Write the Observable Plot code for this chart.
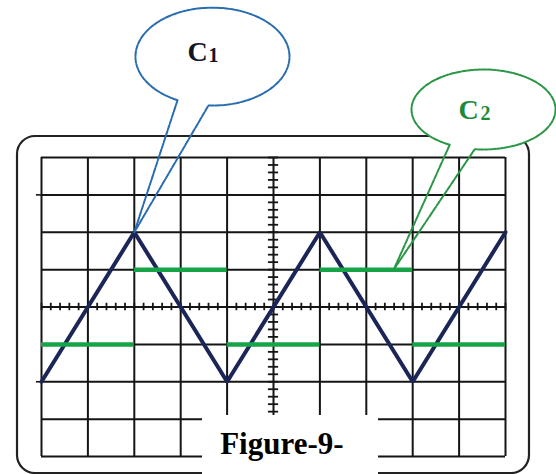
<!DOCTYPE html>
<html>
<head>
<meta charset="utf-8">
<script src="https://cdn.jsdelivr.net/npm/d3@7"></script>
<script src="https://cdn.jsdelivr.net/npm/@observablehq/plot@0.6"></script>
<style>
  html, body { margin: 0; padding: 0; background: #fff; }
  #chart svg { display: block; overflow: visible; }
</style>
</head>
<body>
<div id="chart"></div>
<script>
// Oscilloscope screen: 10 horizontal by 8 vertical divisions
const columns = [0, 1, 2, 3, 4, 5, 6, 7, 8, 9, 10];
const rows = [-4, -3, -2, -1, 0, 1, 2, 3, 4];

// Channel C1: triangle trace (time in divisions, level in divisions)
const triTime = [0, 2, 4, 6, 8, 10];
const triLevel = [-2, 2, -2, 2, -2, 2];

// Channel C2: square trace, one flat step per half period
const sqStart = [0, 2, 4, 6, 8];
const sqEnd = [2, 4, 6, 8, 10];
const sqLevel = [-1, 1, -1, 1, -1];

// Texts
const figureLabel = "Figure-9-";
const channelLetter = ["C", "C"];
const channelNumber = ["1", "2"];

// Fine graduations on the two centre axes (fifths of a division)
const minorX = d3.range(0, 10.001, 0.2);
const minorY = d3.range(-4, 4.001, 0.2);

const triangle = triTime.map((t, i) => ({t, v: triLevel[i]}));
const square = sqStart.map((s, i) => ({s, e: sqEnd[i], v: sqLevel[i]}));

// Speech-bubble outline: ellipse rim from the left foot of the tail, over the top,
// to the right foot, then down to the tip and back (angles in degrees, 90 = bottom)
function ellipseRim(cx, cy, rx, ry, a0, a1) {
  return d3.range(a0, a1 + 0.001, 3).map(a => {
    const r = a * Math.PI / 180;
    return {x: cx + rx * Math.cos(r), y: cy - ry * Math.sin(r)};
  });
}
function bubble(cx, cy, rx, ry, aLeft, aRight, tip) {
  const rim = ellipseRim(cx, cy, rx, ry, aLeft, aRight + 360);
  return {
    fill: ellipseRim(cx, cy, rx, ry, 0, 357),
    outline: [...rim, tip, rim[0]]
  };
}

const bubble1 = bubble(3.685, 6.70, 1.66, 1.31, 117, 95, {x: triTime[1], y: triLevel[1]});
const bubble2 = bubble(9.526, 5.284, 1.552, 1.07, 118, 98, {x: 7.59, y: sqLevel[3]});

const navy = "#1b2557";
const green = "#17a348";
const grid = "#151515";

const chart = Plot.plot({
  width: 556,
  height: 474,
  marginLeft: 41,
  marginRight: 51,
  marginTop: 157,
  marginBottom: 18,
  x: {domain: [0, 10], axis: null},
  y: {domain: [-4, 4], axis: null},
  style: {background: "white", overflow: "visible"},
  marks: [
    // bezel of the screen
    Plot.rect([0], {x1: -0.517, x2: 10.517, y1: -4.455, y2: 4.562, rx: 18, ry: 18,
      fill: "none", stroke: "#222", strokeWidth: 2.2}),
    // graticule
    Plot.ruleX(columns, {y1: -4, y2: 4, stroke: grid, strokeWidth: 2}),
    Plot.ruleY(rows, {x1: 0, x2: 10, stroke: grid, strokeWidth: 2}),
    Plot.ruleY([3, -2], {x1: -0.11, x2: 0, stroke: grid, strokeWidth: 1.6}),
    Plot.ruleX(minorX, {y1: -0.1, y2: 0.1, stroke: grid, strokeWidth: 1.8}),
    Plot.ruleY(minorY, {x1: 5 - 0.11, x2: 5 + 0.11, stroke: grid, strokeWidth: 1.8}),
    // C1 triangle
    Plot.line(triangle, {x: "t", y: "v", stroke: navy, strokeWidth: 4, strokeLinejoin: "miter"}),
    // C2 square steps
    Plot.ruleY(square, {y: "v", x1: "s", x2: "e", stroke: green, strokeWidth: 4.5}),
    // C1 bubble
    Plot.line(bubble1.fill, {x: "x", y: "y", fill: "white", stroke: "none", curve: "linear-closed"}),
    Plot.line(bubble1.outline, {x: "x", y: "y", stroke: "#2a6cb0", strokeWidth: 2,
      strokeDasharray: "5,1.5", fill: "none"}),
    Plot.text([channelLetter[0]], {x: 3.147, y: 6.595, text: d => d, textAnchor: "start", lineAnchor: "bottom",
      fontSize: 28, fontWeight: "bold", fontFamily: "Liberation Serif", fill: "#141428"}),
    Plot.text([channelNumber[0]], {x: 3.6, y: 6.55, text: d => d, textAnchor: "start", lineAnchor: "bottom",
      fontSize: 20, fontWeight: "bold", fontFamily: "Liberation Serif", fill: "#141428"}),
    // C2 bubble
    Plot.line(bubble2.fill, {x: "x", y: "y", fill: "white", stroke: "none", curve: "linear-closed"}),
    Plot.line(bubble2.outline, {x: "x", y: "y", stroke: "#2a9646", strokeWidth: 2,
      strokeDasharray: "5,1.5", fill: "none"}),
    Plot.text([channelLetter[1]], {x: 8.987, y: 5.043, text: d => d, textAnchor: "start", lineAnchor: "bottom",
      fontSize: 28, fontWeight: "bold", fontFamily: "Liberation Serif", fill: "#1d8a3a"}),
    Plot.text([channelNumber[1]], {x: 9.46, y: 4.99, text: d => d, textAnchor: "start", lineAnchor: "bottom",
      fontSize: 20, fontWeight: "bold", fontFamily: "Liberation Serif", fill: "#1d8a3a"}),
    // caption plate
    Plot.rect([0], {x1: 3.47, x2: 7.263, y1: -4.9, y2: -2.903, fill: "white"}),
    Plot.text([figureLabel], {x: 3.85, y: -3.92, text: d => d, textAnchor: "start", lineAnchor: "bottom",
      fontSize: 31, fontWeight: "bold", fontFamily: "Liberation Serif", fill: "black"})
  ]
});

document.getElementById("chart").append(chart);
</script>
</body>
</html>
